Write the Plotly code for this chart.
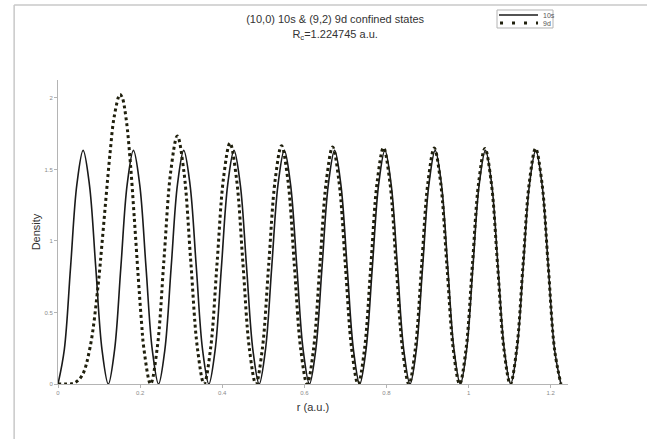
import plotly.graph_objects as go

# ---- data ----
r_10s = [0, 0.0153, 0.0306, 0.0459, 0.0612, 0.0765, 0.0919, 0.1072, 0.1225, 0.1378,
         0.1531, 0.1684, 0.1837, 0.1990, 0.2143, 0.2296, 0.2449, 0.2602, 0.2756, 0.2909,
         0.3062, 0.3215, 0.3368, 0.3521, 0.3674, 0.3827, 0.3980, 0.4133, 0.4286, 0.4439,
         0.4592, 0.4746, 0.4899, 0.5052, 0.5205, 0.5358, 0.5511, 0.5664, 0.5817, 0.5970,
         0.6124, 0.6277, 0.6430, 0.6583, 0.6736, 0.6889, 0.7042, 0.7195, 0.7348, 0.7501,
         0.7655, 0.7808, 0.7961, 0.8114, 0.8267, 0.8420, 0.8573, 0.8726, 0.8879, 0.9032,
         0.9186, 0.9339, 0.9492, 0.9645, 0.9798, 0.9951, 1.0104, 1.0257, 1.0410, 1.0563,
         1.0716, 1.0870, 1.1023, 1.1176, 1.1329, 1.1482, 1.1635, 1.1788, 1.1941, 1.2094,
         1.2247]
density_10s = [0, 0.239, 0.817, 1.394, 1.633, 1.394, 0.817, 0.239,
               0, 0.239, 0.817, 1.394, 1.633, 1.394, 0.817, 0.239,
               0, 0.239, 0.817, 1.394, 1.633, 1.394, 0.817, 0.239,
               0, 0.239, 0.817, 1.394, 1.633, 1.394, 0.817, 0.239,
               0, 0.239, 0.817, 1.394, 1.633, 1.394, 0.817, 0.239,
               0, 0.239, 0.817, 1.394, 1.633, 1.394, 0.817, 0.239,
               0, 0.239, 0.817, 1.394, 1.633, 1.394, 0.817, 0.239,
               0, 0.239, 0.817, 1.394, 1.633, 1.394, 0.817, 0.239,
               0, 0.239, 0.817, 1.394, 1.633, 1.394, 0.817, 0.239,
               0, 0.239, 0.817, 1.394, 1.633, 1.394, 0.817, 0.239,
               0]

r_9d = [0, 0.0196, 0.0391, 0.0587, 0.0782, 0.0978, 0.1075, 0.1173, 0.1271, 0.1369,
        0.1509, 0.1564, 0.1662, 0.1760, 0.1857, 0.1955, 0.2033, 0.2091, 0.2254,
        0.2417, 0.2580, 0.2743, 0.2906, 0.3068, 0.3231, 0.3394, 0.3557,
        0.3715, 0.3873, 0.4030, 0.4188, 0.4346, 0.4504, 0.4661, 0.4819,
        0.4975, 0.5131, 0.5287, 0.5443, 0.5599, 0.5755, 0.5911, 0.6067,
        0.6222, 0.6377, 0.6533, 0.6688, 0.6843, 0.6998, 0.7153, 0.7308,
        0.7463, 0.7618, 0.7772, 0.7927, 0.8082, 0.8237, 0.8391, 0.8546,
        0.8700, 0.8855, 0.9009, 0.9164, 0.9318, 0.9472, 0.9627, 0.9781,
        0.9935, 1.0090, 1.0244, 1.0398, 1.0552, 1.0707, 1.0861, 1.1015,
        1.1169, 1.1323, 1.1477, 1.1631, 1.1785, 1.1939, 1.2093, 1.2247]
density_9d = [0, 0.0001, 0.006, 0.060, 0.258, 0.693, 0.993, 1.316, 1.624, 1.869,
              2.024, 2.003, 1.847, 1.554, 1.165, 0.744, 0.435, 0.248, 0,
              0.253, 0.867, 1.480, 1.733, 1.480, 0.867, 0.253, 0,
              0.246, 0.842, 1.438, 1.684, 1.438, 0.842, 0.246, 0,
              0.243, 0.833, 1.423, 1.666, 1.423, 0.833, 0.243, 0,
              0.242, 0.829, 1.415, 1.657, 1.415, 0.829, 0.242, 0,
              0.241, 0.826, 1.411, 1.652, 1.411, 0.826, 0.241, 0,
              0.241, 0.825, 1.408, 1.649, 1.408, 0.825, 0.241, 0,
              0.240, 0.824, 1.407, 1.647, 1.407, 0.824, 0.240, 0,
              0.240, 0.823, 1.406, 1.646, 1.406, 0.823, 0.240, 0]

x_ticks = [0, 0.2, 0.4, 0.6, 0.8, 1.0, 1.2]
x_tick_labels = ["0", "0.2", "0.4", "0.6", "0.8", "1", "1.2"]
y_ticks = [0, 0.5, 1.0, 1.5, 2.0]
y_tick_labels = ["0", "0.5", "1", "1.5", "2"]

series_names = ["10s", "9d"]
title_text = "(10,0) 10s & (9,2) 9d confined states<br>R<sub>c</sub>=1.224745 a.u."

FONT = "Liberation Sans, Arial, sans-serif"
SOLID_COLOR = "#1a1a1a"
DOT_COLOR = "#1f1f0c"

fig = go.Figure()
fig.add_trace(go.Scatter(x=r_10s, y=density_10s, mode="lines", name=series_names[0],
                         line=dict(color=SOLID_COLOR, width=1.6, shape="spline")))
fig.add_trace(go.Scatter(x=r_9d, y=density_9d, mode="lines", name=series_names[1],
                         line=dict(color=DOT_COLOR, width=3, dash="dot", shape="spline")))

axis_common = dict(showgrid=False, zeroline=False, showline=True, linecolor="#b4b4b4",
                   linewidth=1, ticks="outside", ticklen=3, tickcolor="#b4b4b4",
                   tickfont=dict(size=6, color="#8a8a8a", family=FONT))

fig.update_layout(
    width=647, height=439,
    margin=dict(l=58, r=79, t=80, b=55),
    paper_bgcolor="white", plot_bgcolor="white",
    font=dict(family=FONT, color="#333333"),
    title=dict(text=title_text, x=0.518, xanchor="center", y=0.947, yanchor="top",
               font=dict(size=11, color="#333333", family=FONT)),
    xaxis=dict(range=[0, 1.242], tickvals=x_ticks, ticktext=x_tick_labels,
               title=dict(text="r (a.u.)", standoff=8, font=dict(size=11, color="#333333")),
               **axis_common),
    yaxis=dict(range=[0, 2.125], tickvals=y_ticks, ticktext=y_tick_labels,
               title=dict(text="Density", standoff=1, font=dict(size=11, color="#333333")),
               **axis_common),
    showlegend=False,
)

# outer frame lines (top and left) as in the reference
fig.add_shape(type="line", xref="paper", yref="paper", x0=-0.086, x1=1.2, y0=1.247, y1=1.247,
              line=dict(color="#c8c8c8", width=1.5))
fig.add_shape(type="line", xref="paper", yref="paper", x0=-0.086, x1=-0.086, y0=1.247, y1=-0.2,
              line=dict(color="#c8c8c8", width=1.5))

# compact legend box (drawn manually so it can be as small as in the reference)
fig.add_shape(type="rect", xref="paper", yref="paper", x0=0.8608, x1=0.9706, y0=1.1711, y1=1.2303,
              line=dict(color="#b4b4b4", width=1), fillcolor="white")
fig.add_shape(type="line", xref="paper", yref="paper", x0=0.8647, x1=0.9412, y0=1.2138, y1=1.2138,
              line=dict(color=SOLID_COLOR, width=1.4))
fig.add_shape(type="line", xref="paper", yref="paper", x0=0.8667, x1=0.9412, y0=1.1875, y1=1.1875,
              line=dict(color=DOT_COLOR, width=3, dash="3px,9px"))
for name, ypos in zip(series_names, [1.2138, 1.1875]):
    fig.add_annotation(x=0.9475, y=ypos, xref="paper", yref="paper", text=name, showarrow=False,
                       xanchor="left", yanchor="middle", font=dict(size=7, color="#555555", family=FONT))

fig.write_html("out.html")
